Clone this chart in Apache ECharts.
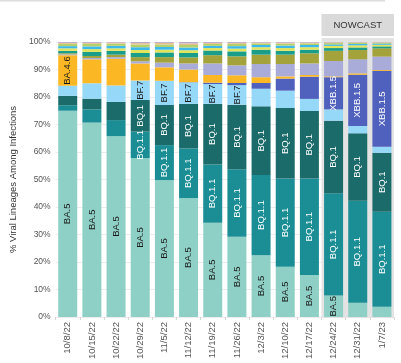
<!DOCTYPE html>
<html>
<head>
<meta charset="utf-8">
<script src="https://cdn.jsdelivr.net/npm/echarts@6/dist/echarts.min.js"></script>
<style>
html,body{margin:0;padding:0;background:#fff;}
#chart{width:401px;height:363px;}
</style>
</head>
<body>
<div id="chart"></div>
<script>
const dates = ['10/8/22','10/15/22','10/22/22','10/29/22','11/5/22','11/12/22','11/19/22','11/26/22','12/3/22','12/10/22','12/17/22','12/24/22','12/31/22','1/7/23'];
const nowcastDates = ['12/24/22','1/7/23'];
const yTicks = [0,10,20,30,40,50,60,70,80,90,100];

const ba5    = [75.0,70.7,65.8,57.8,49.8,43.2,34.3,29.2,22.5,18.3,15.3,7.8,5.2,3.7];
const bq11   = [2.0,4.8,5.8,9.6,12.7,18.1,21.2,24.5,29.1,32.1,35.1,37.2,37.1,34.6];
const bq1    = [3.4,3.9,6.6,11.5,14.6,16.2,22.0,23.5,25.0,25.6,24.5,26.4,24.5,21.4];
const bf7    = [3.7,5.6,6.0,7.1,8.8,7.8,7.2,7.1,6.4,6.3,4.4,4.1,2.7,2.2];
const xbb15  = [0,0,0,0,0,0.1,0.5,0.8,2.1,4.4,8.1,11.7,18.6,27.6];
const ba46   = [11.1,8.7,9.7,6.2,4.9,4.6,2.8,2.8,2.1,0.8,0.6,0.3,0.5,0.3];
const xbb    = [0.3,0.5,0.6,0.8,1.7,2.2,4.2,3.6,4.8,4.5,4.2,5.6,5.1,4.9];
const bn1    = [0.4,0.7,0.9,1.5,2.0,2.2,3.0,3.3,3.4,3.4,3.7,3.7,3.4,3.0];
const ba2752 = [0.9,1.5,1.4,1.5,1.7,1.6,1.7,1.8,1.8,1.4,1.3,1.0,0.9,0.7];
const ch11   = [0.9,1.0,0.9,1.1,1.0,1.0,0.9,1.0,0.9,1.0,0.9,0.8,0.8,0.6];
const ba526  = [0.8,1.0,0.9,1.0,1.0,1.0,0.8,0.9,0.8,0.9,0.8,0.5,0.5,0.4];
const bf11   = [0.8,0.9,0.8,1.0,0.9,0.9,0.7,0.8,0.6,0.7,0.6,0.5,0.4,0.3];
const ba275  = [0.4,0.4,0.4,0.5,0.6,0.6,0.4,0.4,0.3,0.4,0.3,0.3,0.2,0.2];
const other  = [0.3,0.3,0.2,0.4,0.3,0.5,0.3,0.3,0.2,0.2,0.2,0.1,0.1,0.1];

const seriesDefs = [
  {name:'BA.5',     data:ba5,    color:'#8ed0c6', text:'#1a1a1a', min:6.5},
  {name:'BQ.1.1',   data:bq11,   color:'#1a8d95', text:'#ffffff', min:9},
  {name:'BQ.1',     data:bq1,    color:'#1c6b6b', text:'#ffffff', min:7},
  {name:'BF.7',     data:bf7,    color:'#96d8f7', text:'#1a1a1a', min:7},
  {name:'XBB.1.5',  data:xbb15,  color:'#5061bd', text:'#ffffff', min:10},
  {name:'BA.4.6',   data:ba46,   color:'#fbb824', text:'#1a1a1a', min:10.5},
  {name:'XBB',      data:xbb,    color:'#a9abd9', text:'#1a1a1a', min:999},
  {name:'BN.1',     data:bn1,    color:'#a3a23b', text:'#1a1a1a', min:999},
  {name:'BA.2.75.2',data:ba2752, color:'#1a9e8a', text:'#1a1a1a', min:999},
  {name:'CH.1.1',   data:ch11,   color:'#e2e45b', text:'#1a1a1a', min:999},
  {name:'BA.5.2.6', data:ba526,  color:'#3dbaea', text:'#1a1a1a', min:999},
  {name:'BF.11',    data:bf11,   color:'#b2d16b', text:'#1a1a1a', min:999},
  {name:'BA.2.75',  data:ba275,  color:'#e5c192', text:'#1a1a1a', min:999},
  {name:'Other',    data:other,  color:'#b8a8ca', text:'#1a1a1a', min:999}
];

const FONT = 'Liberation Sans, Arial, sans-serif';
const chart = echarts.init(document.getElementById('chart'), null, {renderer:'canvas'});

const series = seriesDefs.map(d => ({
  name: d.name,
  type: 'bar',
  stack: 'all',
  barWidth: 19,
  data: d.data,
  itemStyle: {color: d.color},
  label: {
    show: true,
    position: 'inside',
    rotate: 90,
    fontSize: 9.5,
    fontFamily: FONT,
    color: d.text,
    formatter: p => (p.value >= d.min ? d.name : '')
  },
  emphasis: {disabled: true},
  z: 3
}));

chart.setOption({
  animation: false,
  backgroundColor: '#ffffff',
  grid: {left: 44, right: 7, top: 42, bottom: 46},
  xAxis: {
    type: 'category',
    data: dates,
    axisLine: {show: false},
    axisTick: {show: true, length: 3, lineStyle: {color: '#d6d6d6'}},
    axisLabel: {rotate: 90, fontSize: 9.5, color: '#555', fontFamily: FONT, margin: 5, interval: 0}
  },
  yAxis: {
    type: 'value',
    min: yTicks[0],
    max: yTicks[yTicks.length - 1],
    interval: 10,
    name: '% Viral Lineages Among Infections',
    nameLocation: 'middle',
    nameGap: 36,
    nameTextStyle: {fontSize: 9.5, color: '#333', fontFamily: FONT},
    axisLine: {show: false},
    axisTick: {show: false},
    axisLabel: {formatter: v => v + '%', fontSize: 8.5, color: '#555', fontFamily: FONT, margin: 5},
    splitLine: {lineStyle: {color: '#ececec', width: 1}}
  },
  series: series
});

// Nowcast panel, positioned from the axes
const c0 = chart.convertToPixel({xAxisIndex: 0}, dates.indexOf(nowcastDates[0]));
const c1 = chart.convertToPixel({xAxisIndex: 0}, dates.indexOf(nowcastDates[1]));
const bw = chart.convertToPixel({xAxisIndex: 0}, 1) - chart.convertToPixel({xAxisIndex: 0}, 0);
const px0 = c0 - bw / 2;
const px1 = c1 + bw / 2;
const yTop = chart.convertToPixel({yAxisIndex: 0}, 100);
const yBot = chart.convertToPixel({yAxisIndex: 0}, 0);

chart.setOption({
  graphic: [
    {type: 'line', shape: {x1: 0, y1: 0.75, x2: 385, y2: 0.75}, style: {stroke: '#dcdcdc', lineWidth: 1.5}, z: 1},
    {type: 'rect', shape: {x: px0, y: yTop - 4, width: px1 - px0, height: yBot - yTop + 5}, style: {fill: '#e3e3e3'}, z: 1},
    {type: 'rect', shape: {x: px0, y: 14, width: px1 - px0, height: 22}, style: {fill: '#dadada'}, z: 1},
    {type: 'text', x: (px0 + px1) / 2, y: 25, style: {text: 'NOWCAST', fontSize: 9.5, fontFamily: FONT, fill: '#333', textAlign: 'center', textVerticalAlign: 'middle'}, z: 2}
  ]
});
</script>
</body>
</html>
